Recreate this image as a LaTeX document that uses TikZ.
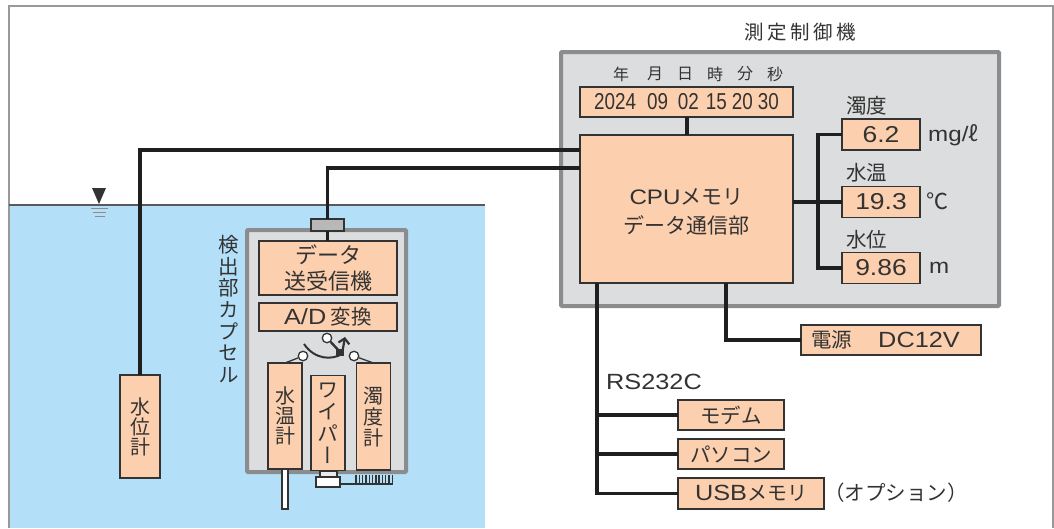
\documentclass[tikz,border=0pt]{standalone}
\usepackage{fontspec}
\usetikzlibrary{arrows.meta}
\setmainfont[FakeStretch=1.15]{Liberation Sans}
\newfontfamily\jp{Noto Sans CJK JP}
\newfontfamily\jpv[RawFeature=+vert]{Noto Sans CJK JP}
\newfontfamily\datefont[FakeStretch=0.82]{Liberation Sans}
\newcommand{\fs}[1]{\fontsize{#1}{#1}\selectfont}
\definecolor{ink}{HTML}{333333}
\definecolor{boxfill}{HTML}{FCCFAE}
\definecolor{water}{HTML}{B3E0F8}
\definecolor{panelfill}{HTML}{DCDDDE}
\definecolor{panelline}{HTML}{8A8C8E}
\tikzset{
	box/.style={draw=ink, fill=boxfill, line width=1.4pt, inner sep=0pt, outer sep=0pt, text=ink, align=center},
	panel/.style={draw=panelline, fill=panelfill, line width=4pt, rounded corners=1pt, inner sep=0pt, outer sep=0pt},
	wire/.style={draw=black!88, line width=3.2pt},
	thickwire/.style={draw=black!88, line width=4pt},
	lbl/.style={text=ink, inner sep=0pt, align=center},
	pin/.style={circle, draw=ink, fill=white, line width=1.3pt, minimum size=9.5pt, inner sep=0pt},
	part/.style={draw=ink, fill=white, line width=1.2pt, inner sep=0pt, outer sep=0pt}
}
\begin{document}
\begin{tikzpicture}[x=1pt,y=-1pt]
	\useasboundingbox (0,0) rectangle (1054,528);
	%water+frame
	\fill[water] (9,205) rectangle (485,528);
	\draw[black!40, line width=2pt] (9,528) -- (9,6) -- (1053,6) -- (1053,528);
	\draw[black!65, line width=1.5pt] (9,205) -- (485,205);
	%water level mark
	\fill[ink] (92,188) -- (106,188) -- (99,204) -- cycle;
	\draw[black!45, line width=1pt] (91,208) -- (108,208);
	\draw[black!45, line width=1pt] (93,212) -- (106,212);
	\draw[black!45, line width=1pt] (95,216) -- (105,216);

	%panels
	\node[panel, minimum width=438pt, minimum height=254pt] (ctrl) at (780,179) {};
	\node[lbl, font=\jp\fs{19.5}\addfontfeature{LetterSpace=18}] (ctrltitle) at (800,32) {測定制御機};
	\node[panel, minimum width=159pt, minimum height=242pt] (capsule) at (326.5,351) {};
	\node[lbl, font=\jpv\fs{20.5}] (capsuletitle) at (229,309) {検\\[1.2pt]出\\[1.2pt]部\\[1.2pt]カ\\[1.2pt]プ\\[1.2pt]セ\\[1.2pt]ル};

	%control unit
	\node[box, minimum width=213pt, minimum height=30pt, font=\datefont\fs{23}] (date) at (686.5,102) {2024\hspace{11pt}09\hspace{10pt}02\hspace{7pt}15\hspace{5pt}20\hspace{5pt}30};
	\node[box, minimum width=213pt, minimum height=148pt] (cpu) at (686.5,209) {};
	\node[lbl, font=\fs{21}] (cputext) at (686.5,212) {CPU{\jp メモリ}\\[8pt]{\jp\fs{21}データ通信部}};
	\node[box, minimum width=78pt, minimum height=31pt, font=\fs{23}] (turbv) at (881,134.5) {6.2};
	\node[box, minimum width=78pt, minimum height=31pt, font=\fs{23}] (tempv) at (881,202) {19.3};
	\node[box, minimum width=78pt, minimum height=31pt, font=\fs{23}] (levelv) at (881,268) {9.86};
	\node[box, minimum width=180pt, minimum height=30pt, font=\fs{22}] (power) at (891,340) {{\jp\fs{20.5}電源}\hspace{26pt}DC12V\hspace{11pt}};
	\node[box, minimum width=106pt, minimum height=30pt, font=\jp\fs{20.5}] (modem) at (731,415) {モデム};
	\node[box, minimum width=106pt, minimum height=30pt, font=\jp\fs{20.5}] (pc) at (731,454) {パソコン};
	\node[box, minimum width=146pt, minimum height=31pt, font=\fs{22}] (usb) at (751,493.5) {USB{\jp\fs{20}メモリ}};

	%date labels
	\node[lbl, font=\jp\fs{16}] (lyear) at (621,74) {年};
	\node[lbl, font=\jp\fs{16}] (lmonth) at (655,74) {月};
	\node[lbl, font=\jp\fs{16}] (lday) at (685,74) {日};
	\node[lbl, font=\jp\fs{16}] (lhour) at (715,74) {時};
	\node[lbl, font=\jp\fs{16}] (lmin) at (745,74) {分};
	\node[lbl, font=\jp\fs{16}] (lsec) at (775,74) {秒};
	%value labels
	\node[lbl, font=\jp\fs{20.5}, anchor=west] (lturb) at (846,106) {濁度};
	\node[lbl, font=\jp\fs{20.5}, anchor=west] (ltemp) at (846,173) {水温};
	\node[lbl, font=\jp\fs{20.5}, anchor=west] (llevel) at (846,240) {水位};
	\node[lbl, font=\fs{21}, anchor=west] (uturb) at (928,135) {mg/{\jp ℓ}};
	\node[lbl, font=\jp\fs{22}, anchor=west] (utemp) at (926,201) {℃};
	\node[lbl, font=\fs{21}, anchor=west] (ulevel) at (929,268) {m};
	\node[lbl, font=\fs{22}, anchor=west] (rs) at (606,382) {RS232C};
	\node[lbl, font=\jp\fs{20.5}] (option) at (896,493) {（オプション）};

	%capsule
	\node[part, fill=black!28, minimum width=33pt, minimum height=12pt] (conn) at (327.5,225) {};
	\node[box, minimum width=138pt, minimum height=54pt, font=\jp\fs{22}] (radio) at (328,268) {データ\\[4pt]送受信機};
	\node[box, minimum width=138pt, minimum height=28pt, font=\fs{22}] (adc) at (328,317) {A/D{\jp\fs{20.5} 変換}};
	\node[box, minimum width=34pt, minimum height=106pt, font=\jp\fs{20}] (tempb) at (285,416) {水\\温\\計};
	\node[box, minimum width=34pt, minimum height=95pt, font=\jpv\fs{21}] (wiper) at (328,423) {ワ\\[1pt]イ\\[1pt]パ\\[1pt]ー};
	\node[box, minimum width=34pt, minimum height=107pt, font=\jp\fs{20}] (turb) at (373.5,416.5) {濁\\[1pt]度\\[1pt]計};
	\node[box, minimum width=40pt, minimum height=103pt, font=\jp\fs{20}] (level) at (140,426.5) {水\\位\\計};

	%probe+wiper motor+brush
	\node[part, minimum width=6pt, minimum height=40pt] (probe) at (285,489) {};
	\node[part, fill=black!8, minimum width=17pt, minimum height=6pt] (mshaft) at (328.5,474) {};
	\node[part, minimum width=24pt, minimum height=10pt] (motor) at (328,482) {};
	\coordinate (brushend) at (393,484);
	\draw[ink, line width=2pt] (motor.east |- brushend) -- (brushend);
	\foreach \x in {356,359.3,...,393} {
		\draw[ink, line width=1.4pt] (\x,475) -- (\x,484);
	}

	%switch
	\node[pin] (swl) at (303,356) {};
	\node[pin] (swc) at (327,338) {};
	\node[pin] (swr) at (354,356) {};
	\coordinate (swend) at (342,354);
	\coordinate (swtip) at (345,337);
	\coordinate (swarc) at (304,344);
	\draw[ink, line width=1.3pt] (swl) -- (tempb.north);
	\draw[ink, line width=1.3pt] (swr) -- (turb.north);
	\draw[ink, line width=2.4pt] (swc) -- (swend);
	\draw[ink, line width=2pt] (swarc) .. controls (315,360) and (332,360) .. (swend);
	\draw[ink, line width=2.2pt, -{Straight Barb[length=5pt,width=11pt]}] (swend) -- (swtip);
	\fill[ink] (336,349) -- (344,349) -- (344,356) -- (336,356) -- cycle;

	%wires
	\coordinate (cpua) at (cpu.west |- 0,150);
	\coordinate (cpub) at (cpu.west |- 0,168);
	\coordinate (rsbus) at (597,283);
	\coordinate (pwbus) at (726,283);
	\coordinate (turbbus) at (818,134.5);
	\draw[wire] (cpua) -| (level.north);
	\draw[wire] (cpub) -| (conn.north);
	\draw[wire] (conn.south) -- (conn.south |- radio.north);
	\draw[thickwire] (date.south) -- (date.south |- cpu.north);
	\draw[thickwire] (cpu.east |- tempv.west) -- (tempv.west);
	\draw[wire] (turbv.west) -- (turbbus) |- (levelv.west);
	\draw[wire] (pwbus) |- (power.west);
	\draw[wire] (rsbus) |- (usb.west);
	\draw[thickwire] (modem.west) -- (modem.west -| rsbus);
	\draw[thickwire] (pc.west) -- (pc.west -| rsbus);
\end{tikzpicture}
\end{document}
